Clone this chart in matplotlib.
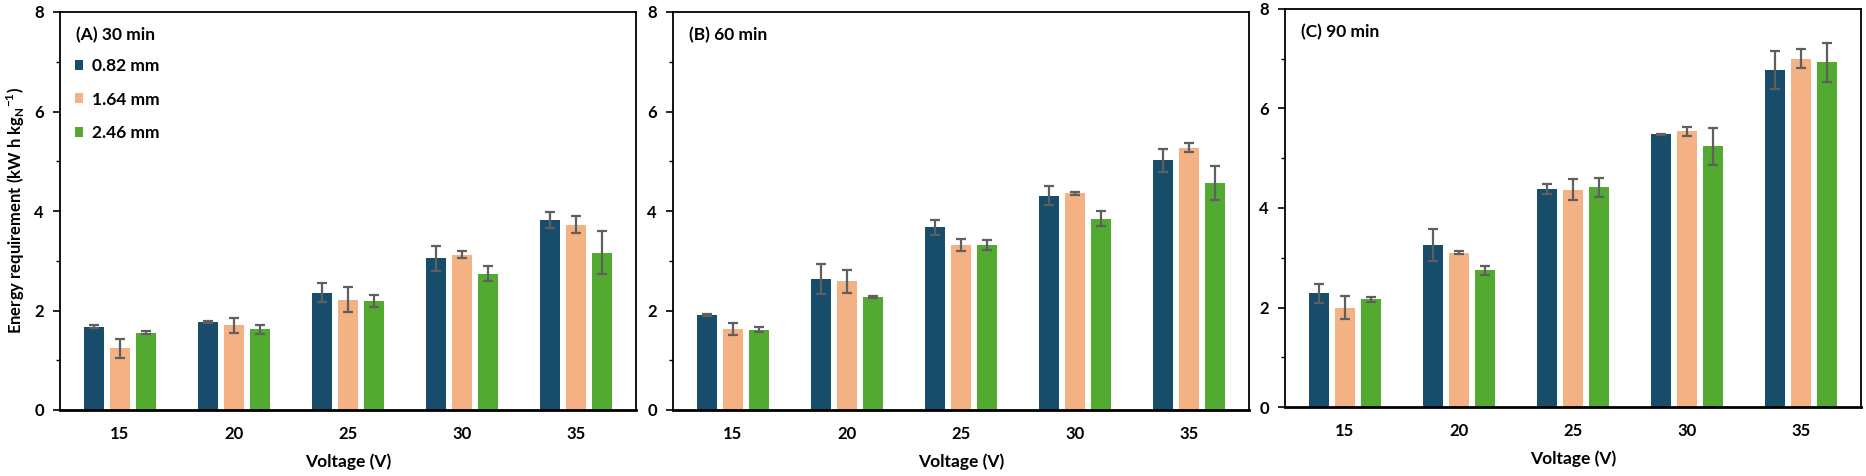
import matplotlib
matplotlib.use("Agg")
import matplotlib.pyplot as plt
import numpy as np
from matplotlib.ticker import MultipleLocator

# Data
voltages = ["15", "20", "25", "30", "35"]
sizes = ["0.82 mm", "1.64 mm", "2.46 mm"]
panels = ["(A) 30 min", "(B) 60 min", "(C) 90 min"]

a_means = [[1.67, 1.77, 2.36, 3.05, 3.81],
           [1.24, 1.70, 2.22, 3.12, 3.72],
           [1.55, 1.62, 2.20, 2.74, 3.16]]
a_errs = [[0.03, 0.02, 0.19, 0.25, 0.16],
          [0.19, 0.15, 0.25, 0.07, 0.17],
          [0.03, 0.09, 0.12, 0.15, 0.43]]

b_means = [[1.90, 2.63, 3.67, 4.31, 5.02],
           [1.63, 2.59, 3.32, 4.36, 5.27],
           [1.61, 2.28, 3.31, 3.84, 4.57]]
b_errs = [[0.02, 0.30, 0.15, 0.19, 0.23],
          [0.12, 0.23, 0.12, 0.03, 0.09],
          [0.05, 0.02, 0.10, 0.15, 0.34]]

c_means = [[2.29, 3.26, 4.38, 5.48, 6.77],
           [2.00, 3.10, 4.37, 5.54, 7.00],
           [2.17, 2.75, 4.42, 5.24, 6.93]]
c_errs = [[0.19, 0.32, 0.10, 0.01, 0.38],
          [0.24, 0.03, 0.21, 0.09, 0.19],
          [0.05, 0.09, 0.19, 0.37, 0.39]]

colors = ["#174c6a", "#f4b183", "#52ab30"]

plt.rcParams['font.family'] = ['Lato', 'DejaVu Sans']
plt.rcParams['font.weight'] = 'bold'
plt.rcParams['mathtext.fontset'] = 'custom'
plt.rcParams['mathtext.rm'] = 'Lato:bold'
plt.rcParams['mathtext.bf'] = 'Lato:bold'

fig = plt.figure(figsize=(18.66, 4.76), dpi=100)
lefts = [60 / 1866, 673 / 1866, 1285 / 1866]
bottoms = [1 - 410 / 476, 1 - 410 / 476, 1 - 407 / 476]
w = 576 / 1866
h = 398 / 476

x = np.arange(len(voltages))
bw = 0.175
step = 0.228

for k, (means, errs) in enumerate([(a_means, a_errs), (b_means, b_errs), (c_means, c_errs)]):
    ax = fig.add_axes([lefts[k], bottoms[k], w, h])
    for i in range(3):
        ax.bar(x + (i - 1) * step, means[i], bw, color=colors[i], label=sizes[i],
               yerr=errs[i], capsize=3.6,
               error_kw=dict(ecolor="#5f5f5f", elinewidth=1.6, capthick=1.6))
    ax.set_xlim(-0.526, 4.526)
    ax.set_ylim(0, 8)
    ax.yaxis.set_major_locator(MultipleLocator(2))
    ax.yaxis.set_minor_locator(MultipleLocator(1))
    ax.set_xticks(x)
    ax.set_xticklabels(voltages)
    ax.tick_params(axis='x', length=0, pad=11.5, labelsize=12)
    ax.tick_params(axis='y', which='major', length=5, width=1.2, labelsize=12, pad=6.5)
    ax.tick_params(axis='y', which='minor', length=3, width=1.0)
    for sp in ax.spines.values():
        sp.set_linewidth(1.3)
    ax.spines['bottom'].set_linewidth(2)
    ax.set_xlabel("Voltage (V)", fontsize=12.5, fontweight='bold', labelpad=8)
    ax.text(0.028, 0.942, panels[k], transform=ax.transAxes, fontsize=12.5,
            fontweight='bold', va='center', ha='left')
    if k == 0:
        ax.set_ylabel(r"Energy requirement (kW h kg$_{\mathbf{N}}$$^{\mathbf{-1}}$)",
                      fontsize=12, fontweight='bold', labelpad=5)
        ax.legend(loc='upper left', bbox_to_anchor=(0.026, 0.884), frameon=False,
                  fontsize=12.5, handlelength=0.47, handleheight=0.5,
                  handletextpad=0.5, labelspacing=1.0, borderaxespad=0,
                  borderpad=0)

fig.savefig("out.png", dpi=100)
